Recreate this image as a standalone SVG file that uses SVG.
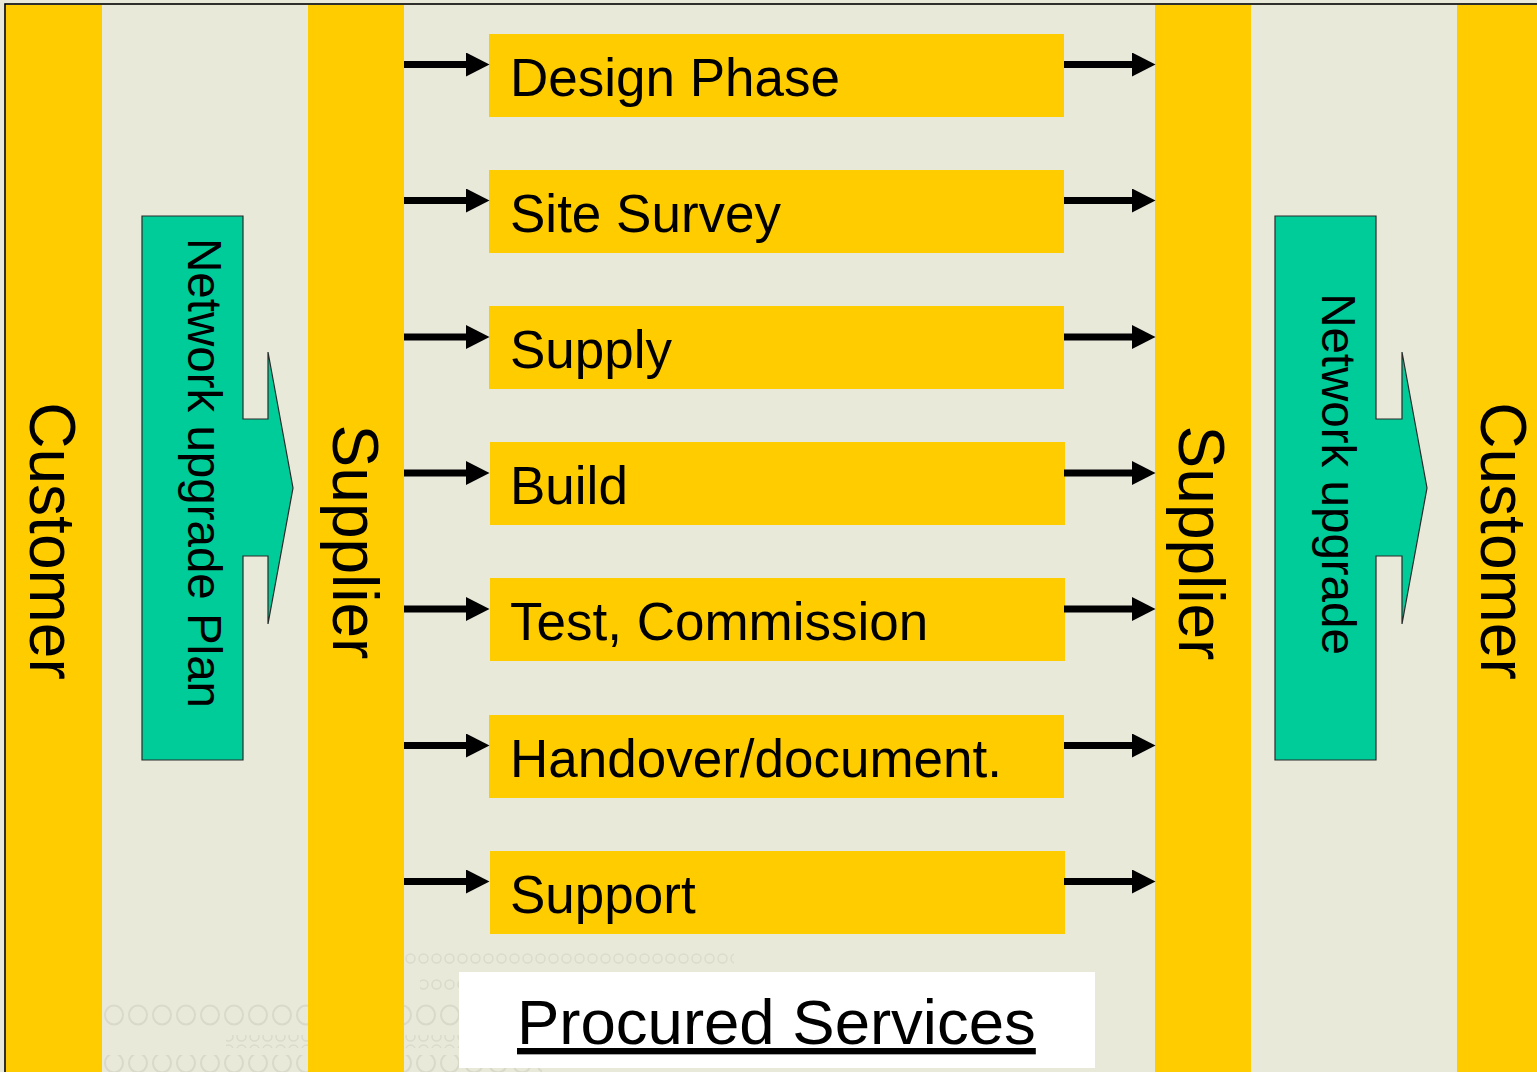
<svg xmlns="http://www.w3.org/2000/svg" width="1537" height="1072" viewBox="0 0 1537 1072">
<style>
.bg{fill:#E8E9D9}
.col{fill:#FFCC00}
.box{fill:#FFCC00}
.lbl{font-family:"Liberation Sans",Arial,sans-serif;font-size:53px;fill:#000}
.vt{font-family:"Liberation Sans",Arial,sans-serif;font-size:64px;fill:#000;text-anchor:middle}
.gt{font-family:"Liberation Sans",Arial,sans-serif;font-size:47.5px;fill:#000;text-anchor:middle}
.green{fill:#00CC99;stroke:#2a2a2a;stroke-width:1.2}
.conn line{stroke:#000;stroke-width:7;marker-end:url(#ah)}
.tex{fill:none;stroke:#D2D3C3;stroke-width:2}
</style>
<defs>
<marker id="ah" markerUnits="userSpaceOnUse" markerWidth="24" markerHeight="24" refX="0" refY="12" orient="auto">
<path d="M0,0 L23.5,12 L0,24 Z" fill="#000"/>
</marker>
<pattern id="bigO" patternUnits="userSpaceOnUse" x="102" y="1003" width="24" height="24">
<ellipse cx="12" cy="12" rx="9" ry="9.5" class="tex"/>
</pattern>
<pattern id="smallO" patternUnits="userSpaceOnUse" x="404" y="952" width="13" height="13">
<circle cx="6.5" cy="6.5" r="4.5" fill="none" stroke="#D4D5C5" stroke-width="1.5"/>
</pattern>
</defs>
<rect class="bg" x="0" y="0" width="1537" height="1072"/>
<g id="texture" opacity="0.7">
<rect x="404" y="952" width="330" height="13" fill="url(#smallO)"/>
<rect x="420" y="978" width="40" height="13" fill="url(#smallO)"/>
<rect x="102" y="1003" width="360" height="24" fill="url(#bigO)"/>
<rect x="226" y="1035" width="236" height="13" fill="url(#smallO)"/>
<rect x="102" y="1055" width="440" height="24" fill="url(#bigO)"/>
</g>
<rect x="5" y="4" width="1600" height="1200" fill="none" stroke="#000" stroke-width="1.6"/>
<g id="customer-left">
<rect class="col" x="6" y="5" width="96" height="1067"/>
<text class="vt" transform="translate(30,541) rotate(90)">Customer</text>
</g>
<g id="supplier-left">
<rect class="col" x="308" y="5" width="96" height="1067"/>
<text class="vt" transform="translate(333,542) rotate(90)">Supplier</text>
</g>
<g id="supplier-right">
<rect class="col" x="1155" y="5" width="96" height="1067"/>
<text class="vt" transform="translate(1179,543) rotate(90)">Supplier</text>
</g>
<g id="customer-right">
<rect class="col" x="1457" y="5" width="80" height="1067"/>
<text class="vt" transform="translate(1481,541) rotate(90)">Customer</text>
</g>
<g id="plan-arrow">
<polygon class="green" points="142,216 243,216 243,419 268,419 268,352 293,488 268,624 268,556 243,556 243,760 142,760"/>
<text class="gt" transform="translate(188,473) rotate(90)">Network upgrade Plan</text>
</g>
<g id="upgrade-arrow">
<polygon class="green" points="1275,216 1376,216 1376,419 1402,419 1402,352 1427,488 1402,624 1402,556 1376,556 1376,760 1275,760"/>
<text class="gt" transform="translate(1322,474) rotate(90)">Network upgrade</text>
</g>
<g id="design">
<rect class="box" x="489" y="34" width="575" height="83"/>
<text class="lbl" x="510" y="96">Design Phase</text>
</g>
<g id="survey">
<rect class="box" x="489" y="170" width="575" height="83"/>
<text class="lbl" x="510" y="232">Site Survey</text>
</g>
<g id="supply">
<rect class="box" x="489" y="306" width="575" height="83"/>
<text class="lbl" x="510" y="368">Supply</text>
</g>
<g id="build">
<rect class="box" x="490" y="442" width="575" height="83"/>
<text class="lbl" x="510" y="504">Build</text>
</g>
<g id="test">
<rect class="box" x="490" y="578" width="575" height="83"/>
<text class="lbl" x="510" y="640">Test, Commission</text>
</g>
<g id="handover">
<rect class="box" x="489" y="715" width="575" height="83"/>
<text class="lbl" x="510" y="777">Handover/document.</text>
</g>
<g id="support">
<rect class="box" x="490" y="851" width="575" height="83"/>
<text class="lbl" x="510" y="913">Support</text>
</g>
<g id="procured">
<rect x="459" y="972" width="636" height="96" fill="#FFFFFF"/>
<text x="517" y="1044" font-family="'Liberation Sans',Arial,sans-serif" font-size="63.5" text-decoration="underline" fill="#000">Procured Services</text>
</g>
<g id="connectors" class="conn">
<line x1="404" y1="64.5" x2="466" y2="64.5"/>
<line x1="404" y1="200.5" x2="466" y2="200.5"/>
<line x1="404" y1="337" x2="466" y2="337"/>
<line x1="404" y1="473" x2="466" y2="473"/>
<line x1="404" y1="609" x2="466" y2="609"/>
<line x1="404" y1="745.5" x2="466" y2="745.5"/>
<line x1="404" y1="881.5" x2="466" y2="881.5"/>
<line x1="1064" y1="64.5" x2="1132" y2="64.5"/>
<line x1="1064" y1="200.5" x2="1132" y2="200.5"/>
<line x1="1064" y1="337" x2="1132" y2="337"/>
<line x1="1064" y1="473" x2="1132" y2="473"/>
<line x1="1064" y1="609" x2="1132" y2="609"/>
<line x1="1064" y1="745.5" x2="1132" y2="745.5"/>
<line x1="1064" y1="881.5" x2="1132" y2="881.5"/>
</g>
</svg>
